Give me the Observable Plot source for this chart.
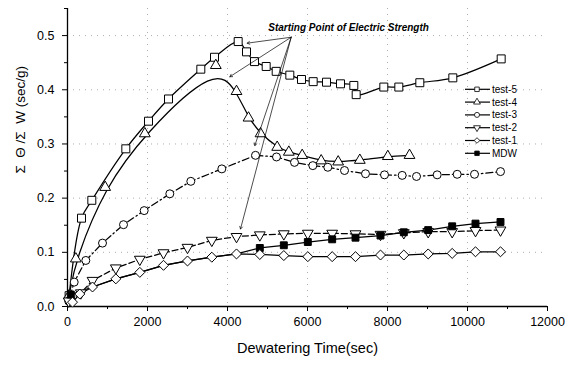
<!DOCTYPE html>
<html><head><meta charset="utf-8">
<script src="https://cdn.jsdelivr.net/npm/d3@7"></script>
<script src="https://cdn.jsdelivr.net/npm/@observablehq/plot@0.6"></script>
<style>
body{margin:0;background:#fff;}
#wrap{position:relative;width:567px;height:365px;font-family:"Liberation Sans",Arial,sans-serif;}
#legend{position:absolute;left:0;top:0;pointer-events:none;}
</style></head><body><div id="wrap"></div>
<script>
// ---- data (time in sec, value in sec/g) ----
const test5 = [[40,0.02],[350,0.163],[608,0.196],[1458,0.291],[2025,0.342],[2525,0.383],[3333,0.438],[3675,0.460],[4267,0.489],[4475,0.470],[4675,0.452],[4967,0.443],[5217,0.434],[5558,0.427],[5850,0.419],[6142,0.415],[6475,0.414],[6825,0.411],[7158,0.408],[7217,0.391],[7908,0.405],[8283,0.405],[8808,0.413],[9633,0.422],[10842,0.457]];
const test4 = [[40,0.02],[208,0.088],[942,0.220],[1933,0.319],[3708,0.445],[4225,0.397],[4525,0.348],[4825,0.319],[5242,0.294],[5533,0.285],[5867,0.279],[6342,0.269],[6767,0.267],[7308,0.270],[8008,0.277],[8550,0.279]];
const test3 = [[30,0.01],[167,0.045],[458,0.085],[875,0.117],[1400,0.151],[1917,0.177],[2558,0.208],[3083,0.231],[3858,0.254],[4700,0.279],[5225,0.276],[5675,0.266],[6133,0.260],[6508,0.257],[6925,0.251],[7450,0.245],[7925,0.243],[8367,0.242],[8725,0.240],[9242,0.243],[9742,0.244],[10175,0.244],[10825,0.249]];
const test2 = [[30,0.01],[333,0.025],[625,0.048],[1208,0.071],[1808,0.087],[2400,0.099],[3000,0.109],[3608,0.122],[4225,0.129],[4808,0.132],[5408,0.134],[6008,0.135],[6617,0.135],[7200,0.134],[7825,0.133],[8408,0.136],[9017,0.138],[9617,0.138],[10200,0.140],[10825,0.141]];
const test1 = [[125,0.008],[308,0.023],[625,0.036],[1208,0.051],[1808,0.063],[2400,0.076],[3000,0.084],[3608,0.091],[4225,0.097],[4808,0.096],[5408,0.094],[6008,0.092],[6617,0.092],[7200,0.092],[7825,0.095],[8408,0.095],[9017,0.097],[9617,0.098],[10200,0.101],[10825,0.101]];
// MDW: its early points lie under the test-1 diamonds (line only there)
const mdw = [[83,0.022],[625,0.036],[1208,0.051],[1808,0.063],[2400,0.076],[3000,0.084],[3608,0.091],[4225,0.097],[4808,0.108],[5408,0.113],[6008,0.119],[6617,0.124],[7200,0.127],[7825,0.131],[8408,0.137],[9017,0.141],[9617,0.148],[10200,0.153],[10825,0.156]];
const mdwHiddenMarkers = [625,1208,1808,2400,3000,3608,4225];

const seriesNames = ["test-5","test-4","test-3","test-2","test-1","MDW"];
const xTicks = [0,2000,4000,6000,8000,10000,12000];
const xMinorTicks = [1000,3000,5000,7000,9000,11000];
const yTicks = [0,0.1,0.2,0.3,0.4,0.5];
const yMinorTicks = [0.05,0.15,0.25,0.35,0.45,0.55];
const xLabel = "Dewatering Time(sec)";
const yLabel = "Σ  Θ /Σ  W (sec/g)";
const annoText = "Starting Point of Electric Strength";
const annoTextPos = [[5020,0.515]];
const annoOrigin = [5592,0.497];
const annoTargets = [[4492,0.486],[4058,0.424],[4683,0.297],[4325,0.143]];

// ---- symbols ----
const triangleDown = {draw(ctx, size){
  const y = -Math.sqrt(size / (Math.sqrt(3) * 3));
  ctx.moveTo(0, -y * 2);
  ctx.lineTo(-Math.sqrt(3) * y, y);
  ctx.lineTo(Math.sqrt(3) * y, y);
  ctx.closePath();
}};

const rows = d => d.map(([t, v]) => ({t, v}));
const series = [
  {name:"test-5", data:rows(test5), symbol:"square",   r:4.5, curve:"catmull-rom", dash:null, fill:"white"},
  {name:"test-4", data:rows(test4), symbol:"triangle", r:4.0, curve:"basis",       dash:null, fill:"white"},
  {name:"test-3", data:rows(test3), symbol:"circle",   r:4,   curve:"linear",      dash:"7,3,1.5,3", fill:"white"},
  {name:"test-2", data:rows(test2), symbol:triangleDown, r:4.0, curve:"linear",    dash:"6,3", fill:"white"},
  {name:"MDW",    data:rows(mdw),   symbol:"square",   r:3.9, curve:"linear",      dash:null, fill:"black"},
  {name:"test-1", data:rows(test1), symbol:"diamond2", r:4.5, curve:"linear",      dash:null, fill:"white"}
];

const marks = [
  Plot.gridX(xTicks.slice(1, -1), {stroke:"#999", strokeOpacity:0.8, strokeDasharray:"1,5"}),
  Plot.gridY(yTicks.slice(1), {stroke:"#999", strokeOpacity:0.8, strokeDasharray:"1,5"}),
  Plot.ruleY([0], {stroke:"black", strokeWidth:1.3}),
  Plot.ruleX([0], {stroke:"black", strokeWidth:1.3}),
  Plot.axisX(xTicks, {tickSize:5, tickPadding:6, tickFormat:d => String(d), fontSize:12.5, label:null}),
  Plot.axisX(xMinorTicks, {tickSize:3, tickFormat:() => "", label:null}),
  Plot.axisY(yTicks, {tickSize:5, tickPadding:8, tickFormat:d3.format(".1f"), fontSize:12.5, label:null}),
  Plot.axisY(yMinorTicks, {tickSize:3, tickFormat:() => "", label:null}),
  Plot.text([xLabel], {frameAnchor:"bottom", dy:46, fontSize:14.5, fill:"black"}),
  Plot.text([yLabel], {frameAnchor:"left", dx:-47, dy:16, rotate:-90, fontSize:13.5, fill:"black"})
];
for (const s of series) {
  marks.push(Plot.line(s.data, {x:"t", y:"v", curve:s.curve, stroke:"black", strokeWidth:1.25, strokeDasharray:s.dash}));
}
for (const s of series) {
  const pts = s.name === "MDW" ? s.data.filter(d => !mdwHiddenMarkers.includes(d.t)) : s.data;
  marks.push(Plot.dot(pts, {x:"t", y:"v", symbol:() => s.symbol, r:s.r, stroke:"black", strokeWidth:1, fill:s.fill}));
}
marks.push(
  Plot.arrow(annoTargets, {x1:() => annoOrigin[0], y1:() => annoOrigin[1], x2:d => d[0], y2:d => d[1], stroke:"black", strokeWidth:0.7, headLength:6}),
  Plot.text(annoTextPos, {x:d => d[0], y:d => d[1], text:() => annoText, textAnchor:"start", fontSize:10, fontWeight:"bold", fontStyle:"italic", fill:"black"})
);

const chart = Plot.plot({
  width:567, height:365,
  marginLeft:67, marginRight:20, marginTop:8, marginBottom:59,
  x:{domain:[0,12000]},
  y:{domain:[0,0.55]},
  symbol:{type:"identity"},
  style:{fontFamily:"'Liberation Sans', Arial, sans-serif", fontSize:"12.5px", color:"black", background:"white"},
  marks
});
const wrap = document.getElementById("wrap");
wrap.appendChild(chart);

// ---- legend overlay ----
const legendSymbols = {"test-5":[d3.symbolSquare,"white"],"test-4":[d3.symbolTriangle,"white"],"test-3":[d3.symbolCircle,"white"],"test-2":[triangleDown,"white"],"test-1":[d3.symbolDiamond2,"white"],"MDW":[d3.symbolSquare,"black"]};
const lg = d3.select(wrap).append("svg").attr("id","legend").attr("width",567).attr("height",365)
  .style("font-family","'Liberation Sans', Arial, sans-serif").style("font-size","10px");
seriesNames.forEach((n, i) => {
  const y = 89.3 + i * 12.8;
  const g = lg.append("g").attr("transform", `translate(0,${y})`);
  g.append("line").attr("x1",465).attr("x2",490).attr("y1",0).attr("y2",0).attr("stroke","black").attr("stroke-width",1.2);
  const [sym, fill] = legendSymbols[n];
  g.append("path").attr("d", d3.symbol(sym, 20)()).attr("transform","translate(477,0)").attr("fill",fill).attr("stroke","black").attr("stroke-width",0.8);
  g.append("text").attr("x",492).attr("y",0).attr("dy","0.35em").text(n);
});
</script></body></html>
